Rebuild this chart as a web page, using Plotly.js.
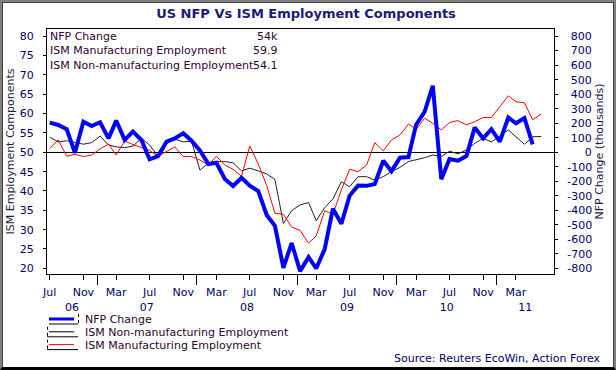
<!DOCTYPE html>
<html>
<head>
<meta charset="utf-8">
<script src="https://cdn.plot.ly/plotly-3.0.1.min.js"></script>
<style>
html,body{margin:0;padding:0;background:#fff;}
#wrap{position:relative;width:616px;height:370px;}
#chart{position:absolute;left:0;top:0;width:616px;height:370px;}
#frame{position:absolute;left:0;top:0;width:616px;height:370px;box-sizing:border-box;
 border-top:2px solid #808080;border-left:2px solid #808080;border-right:2px solid #808080;border-bottom:3px solid #000;
 box-shadow: inset 1px 1px 0 #404040, inset -1px 0 0 #404040;pointer-events:none;}
</style>
</head>
<body>
<div id="wrap"><div id="chart"></div><div id="frame"></div></div>
<script>
// ---- data ----
const months = ["2006-07","2006-08","2006-09","2006-10","2006-11","2006-12",
"2007-01","2007-02","2007-03","2007-04","2007-05","2007-06","2007-07","2007-08","2007-09","2007-10","2007-11","2007-12",
"2008-01","2008-02","2008-03","2008-04","2008-05","2008-06","2008-07","2008-08","2008-09","2008-10","2008-11","2008-12",
"2009-01","2009-02","2009-03","2009-04","2009-05","2009-06","2009-07","2009-08","2009-09","2009-10","2009-11","2009-12",
"2010-01","2010-02","2010-03","2010-04","2010-05","2010-06","2010-07","2010-08","2010-09","2010-10","2010-11","2010-12",
"2011-01","2011-02","2011-03","2011-04","2011-05","2011-06"];

const nfpChange = [204,188,159,-3,211,181,
207,96,218,85,142,85,-48,-26,73,96,131,80,
13,-81,-72,-184,-232,-175,-230,-267,-432,-506,-795,-625,
-818,-722,-800,-666,-388,-492,-299,-229,-231,-218,-58,-130,
-37,-33,190,278,458,-185,-47,-58,-26,170,96,159,
73,239,200,236,54];

const ismMfgEmp = [51.0,53.2,49.0,49.5,48.9,49.3,
50.9,52.1,49.3,52.9,52.0,51.2,50.5,49.0,50.3,51.4,48.9,48.9,
48.0,46.7,49.0,46.7,45.6,43.8,51.6,47.0,41.4,34.2,34.0,30.7,
29.8,26.5,28.4,34.9,34.0,40.3,45.6,45.0,46.7,52.5,50.4,53.2,
54.5,57.3,55.9,58.8,57.5,55.8,57.7,58.2,57.1,57.9,59.0,59.0,
61.8,64.6,63.1,62.8,58.4,59.9];

const ismNonMfgEmp = [53.9,52.7,53.0,52.5,52.1,52.5,
54.2,51.9,51.4,51.2,51.6,53.6,51.9,49.0,52.6,53.4,52.7,52.9,
45.4,47.2,47.6,47.6,47.3,45.2,45.9,45.2,44.4,43.0,31.6,34.9,
36.4,37.0,32.3,35.7,37.9,42.4,41.1,43.7,43.7,42.8,43.7,45.0,
46.1,47.6,48.0,48.6,49.3,48.9,50.3,49.6,50.6,52.3,53.6,52.7,
54.2,55.8,54.0,52.1,54.0,54.1];

const monthTickDates = ["2006-07","2006-11","2007-03","2007-07","2007-11","2008-03","2008-07","2008-11",
"2009-03","2009-07","2009-11","2010-03","2010-07","2010-11","2011-03"];
const monthTickLabels = ["Jul","Nov","Mar","Jul","Nov","Mar","Jul","Nov","Mar","Jul","Nov","Mar","Jul","Nov","Mar"];
const yearTickDates = ["2007-01-01","2008-01-01","2009-01-01","2010-01-01","2011-01-01"];
const yearLabelDates = ["2006-10-01","2007-07-02","2008-07-02","2009-07-02","2010-07-02","2011-04-15"];
const yearLabels = ["06","07","08","09","10","11"];
const leftTicks = [20,25,30,35,40,45,50,55,60,65,70,75,80];
const rightTicks = [-800,-700,-600,-500,-400,-300,-200,-100,0,100,200,300,400,500,600,700,800];

const legendNames = ["NFP Change","ISM Manufacturing Employment","ISM Non-manufacturing Employment"];
const legendValues = ["54k","59.9","54.1"];
const bottomLegendNames = ["NFP Change","ISM Non-manufacturing Employment","ISM Manufacturing Employment"];

// ---- build ----
const DAY = "-12";
const ismDates = months.map(m => m + DAY);
const nfpDates = months.slice(0, nfpChange.length).map(m => m + DAY);
const FONT = "DejaVu Sans";
const NAVY = "#000066";
const TXT = "#330033";

function padRight(v){
  if (v < 0) return "-" + Math.abs(v);
  if (v === 0) return "\u2008\u2007\u20070";
  return "\u2008" + v;
}

// plot area in pixels
const L = 47, R = 554, T = 29, B = 274;
const px = x => (x - L) / (R - L);
const py = y => (B - y) / (B - T);

const traces = [
  {x: ismDates, y: ismNonMfgEmp, type: "scatter", mode: "lines", name: "ISM Non-manufacturing Employment",
   line: {color: "#222222", width: 1}, xaxis: "x", yaxis: "y", hoverinfo: "skip"},
  {x: ismDates, y: ismMfgEmp, type: "scatter", mode: "lines", name: "ISM Manufacturing Employment",
   line: {color: "#ff0000", width: 1}, xaxis: "x", yaxis: "y", hoverinfo: "skip"},
  {x: nfpDates, y: nfpChange, type: "scatter", mode: "lines", name: "NFP Change",
   line: {color: "#0000ff", width: 4}, xaxis: "x", yaxis: "y2", hoverinfo: "skip"},
  {x: [], y: [], type: "scatter", mode: "lines", xaxis: "x2", yaxis: "y", showlegend: false, hoverinfo: "skip"}
];

const xrange = ["2006-07-02", "2011-07-29"];

const annotations = [];
legendNames.forEach((n, i) => {
  const yy = 36 + i * 14.5;
  annotations.push({xref: "paper", yref: "paper", x: px(48), y: py(yy), xanchor: "left", yanchor: "middle",
    text: n, showarrow: false, font: {family: FONT, size: 11, color: TXT}});
  annotations.push({xref: "paper", yref: "paper", x: px(280), y: py(yy), xanchor: "right", yanchor: "middle",
    text: legendValues[i], showarrow: false, font: {family: FONT, size: 11, color: TXT}});
});
bottomLegendNames.forEach((n, i) => {
  const yy = 319.5 + i * 12.8;
  annotations.push({xref: "paper", yref: "paper", x: px(83), y: py(yy), xanchor: "left", yanchor: "middle",
    text: n, showarrow: false, font: {family: FONT, size: 11, color: TXT}});
});
annotations.push({xref: "paper", yref: "paper", x: px(603), y: py(358), xanchor: "right", yanchor: "middle",
  text: "Source: Reuters EcoWin, Action Forex", showarrow: false, font: {family: FONT, size: 11, color: NAVY}});

const shapes = [];
const lineColors = ["#0000ff", "#000000", "#ff0000"];
const lineWidths = [3, 1, 1];
bottomLegendNames.forEach((n, i) => {
  const yy = 319 + i * 12.8;
  shapes.push({type: "line", xref: "paper", yref: "paper", x0: px(49), x1: px(74), y0: py(yy), y1: py(yy),
    line: {color: lineColors[i], width: lineWidths[i]}});
  shapes.push({type: "line", xref: "paper", yref: "paper", x0: px(i === 0 ? 49 : 47), x1: px(78), y0: py(yy + 5), y1: py(yy + 5),
    line: {color: "#000", width: 1}});
  const sx = i === 0 ? 78.5 : 47.5;
  shapes.push({type: "line", xref: "paper", yref: "paper", x0: px(sx), x1: px(sx), y0: py(yy - 5), y1: py(yy + 5),
    line: {color: "#000", width: 1, dash: "dot"}});
});

const layout = {
  width: 616, height: 370,
  margin: {l: L, r: 616 - R, t: T, b: 370 - B, pad: 0},
  paper_bgcolor: "#ffffff", plot_bgcolor: "#ffffff",
  showlegend: false,
  font: {family: FONT, size: 11, color: NAVY},
  title: {text: "<b>US NFP Vs ISM Employment Components</b>", font: {family: FONT, size: 13, color: "#1a1a78"},
    xref: "container", yref: "container", x: 306 / 616, y: 1 - 13 / 370, xanchor: "center", yanchor: "middle"},
  xaxis: {type: "date", range: xrange, tickmode: "array",
    tickvals: monthTickDates.map(d => d + DAY), ticktext: monthTickLabels,
    ticks: "outside", ticklen: 5, tickcolor: "#000", tickwidth: 1,
    minor: {tickmode: "array", tickvals: yearTickDates, ticks: "outside", ticklen: 10, tickcolor: "#000", tickwidth: 1, showgrid: false},
    showline: true, linecolor: "#000", linewidth: 1, mirror: true, showgrid: false, zeroline: false,
    tickfont: {family: FONT, size: 11, color: NAVY}, ticklabelstandoff: 3},
  xaxis2: {type: "date", range: xrange, overlaying: "x", anchor: "y", side: "bottom", tickmode: "array",
    tickvals: yearLabelDates, ticktext: yearLabels, ticks: "", showline: false, showgrid: false, zeroline: false,
    tickfont: {family: FONT, size: 11, color: NAVY}, ticklabelstandoff: 25},
  yaxis: {range: [18.53, 81.89], tickmode: "array", tickvals: leftTicks, ticktext: leftTicks.map(String),
    ticks: "outside", ticklen: 3, tickcolor: "#000", showline: true, linecolor: "#000", linewidth: 1,
    showgrid: false, zeroline: false, tickfont: {family: FONT, size: 11, color: NAVY}, ticklabelstandoff: 7,
    title: {text: "ISM Employment Components", font: {family: FONT, size: 11, color: "#1a1a40"}, standoff: 2}},
  yaxis2: {range: [-838, 849], overlaying: "y", side: "right", anchor: "x", tickmode: "array",
    tickvals: rightTicks, ticktext: rightTicks.map(padRight),
    ticks: "outside", ticklen: 3, tickcolor: "#000", showline: true, linecolor: "#000", linewidth: 1,
    showgrid: false, zeroline: true, zerolinecolor: "#000", zerolinewidth: 1,
    tickfont: {family: FONT, size: 11, color: NAVY}, ticklabelstandoff: 7,
    title: {text: "NFP Change (thousands)", font: {family: FONT, size: 11, color: "#1a1a40"}, standoff: 4}},
  annotations: annotations,
  shapes: shapes
};

Plotly.newPlot("chart", traces, layout, {staticPlot: true, displayModeBar: false});
</script>
</body>
</html>
